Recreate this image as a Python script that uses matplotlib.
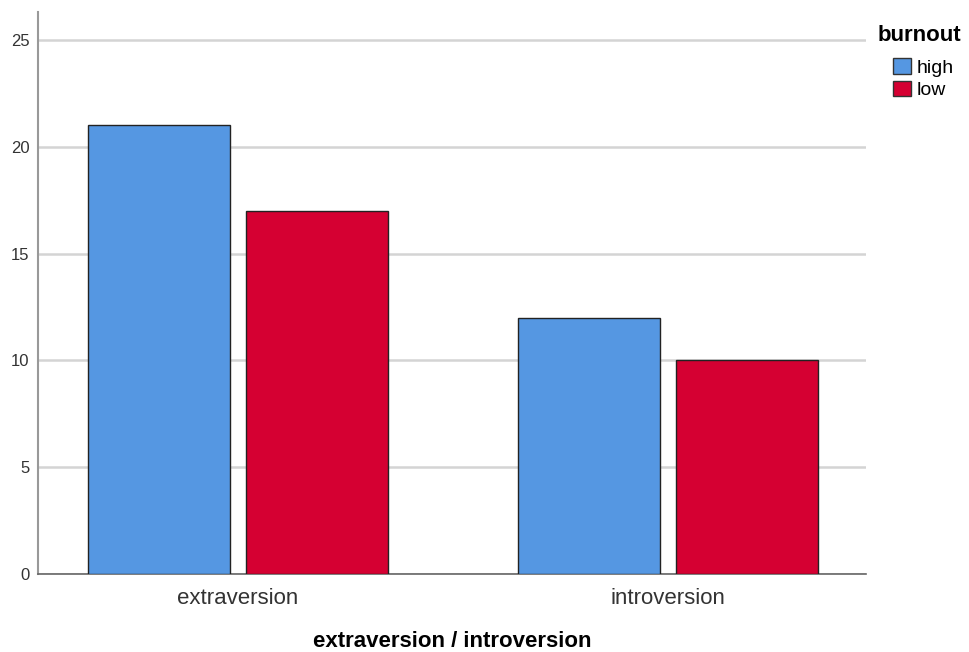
import matplotlib.pyplot as plt
import numpy as np

# counts per personality group, split by burnout level
categories = ["extraversion", "introversion"]
burnout_levels = ["high", "low"]
high_counts = [21, 12]
low_counts = [17, 10]
y_ticks = [0, 5, 10, 15, 20, 25]

colors = {"high": "#5597e2", "low": "#d50032"}

plt.rcParams["font.family"] = ["Liberation Sans", "DejaVu Sans"]

W, H = 969, 652
fig = plt.figure(figsize=(W / 100, H / 100), dpi=100)
ax = fig.add_axes([0.0392, 0.1196, 0.8545, 0.862])

x = np.arange(len(categories))
w = 0.3306
off = 0.184
ax.bar(x - off, high_counts, width=w, color=colors["high"], edgecolor="#222222",
       linewidth=1.0, zorder=3, label="high")
ax.bar(x + off, low_counts, width=w, color=colors["low"], edgecolor="#222222",
       linewidth=1.0, zorder=3, label="low")

ax.set_xlim(-0.4657, 1.462)
ax.set_ylim(0, 26.31)
ax.set_yticks(y_ticks)
ax.set_xticks(x)
ax.set_xticklabels(categories, fontsize=16, color="#333333")
ax.tick_params(axis="y", labelsize=12, colors="#333333", length=0, pad=6)
ax.tick_params(axis="x", length=0, pad=10)
ax.yaxis.grid(True, color="#d4d4d4", linewidth=1.8, zorder=0)
ax.set_axisbelow(True)

for s in ["top", "right"]:
    ax.spines[s].set_visible(False)
ax.spines["left"].set_color("#999999")
ax.spines["bottom"].set_color("#666666")
ax.spines["left"].set_linewidth(1.5)
ax.spines["bottom"].set_linewidth(1.2)

ax.set_xlabel("extraversion / introversion", fontsize=16, fontweight="bold",
              labelpad=16)

# legend title sits left of the entries, like the SPSS output
fig.text(878 / W, 1 - 41 / H, "burnout", fontsize=16, fontweight="bold",
         ha="left", va="baseline")
handles, labels = ax.get_legend_handles_labels()
leg = fig.legend(handles, labels, loc="upper left",
                 bbox_to_anchor=(893 / W, 1 - 58 / H), bbox_transform=fig.transFigure,
                 frameon=False, fontsize=14, handlelength=0.9, handleheight=0.88,
                 handletextpad=0.3, labelspacing=0.2, borderpad=0, borderaxespad=0)
for h in leg.legend_handles:
    h.set_edgecolor("#333333")

fig.savefig("out.png", dpi=100)
